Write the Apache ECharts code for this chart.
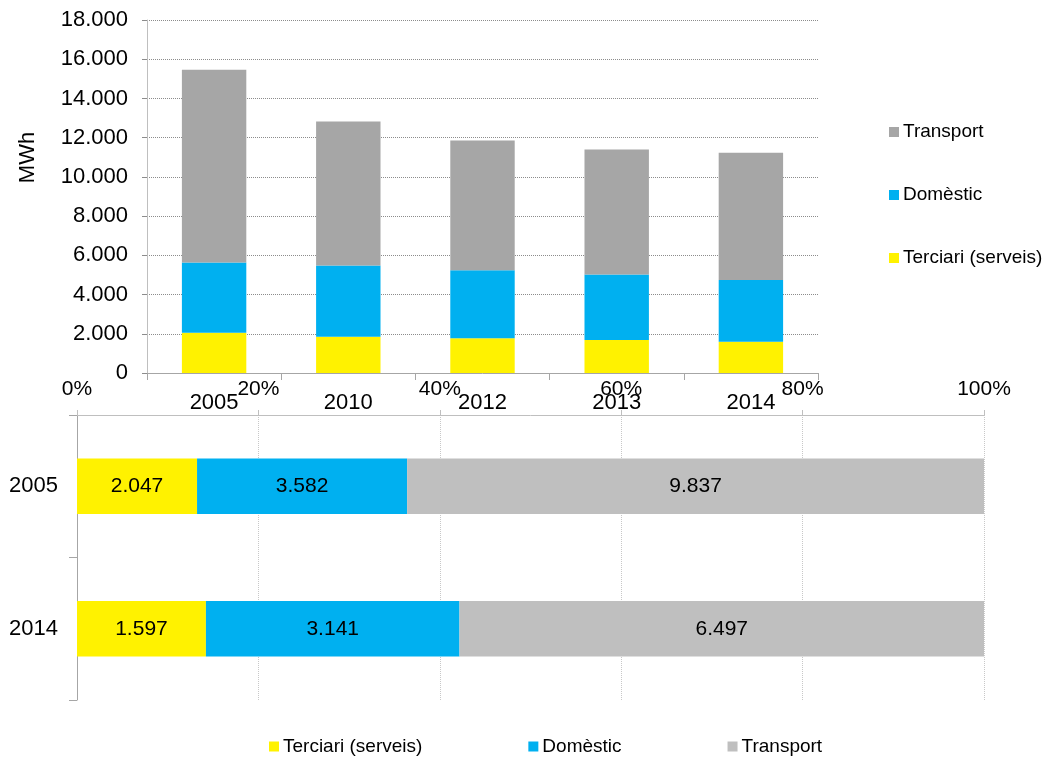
<!DOCTYPE html>
<html>
<head>
<meta charset="utf-8">
<script src="https://cdn.jsdelivr.net/npm/echarts@6/dist/echarts.min.js"></script>
<style>
  html, body { margin: 0; padding: 0; background: #fff; }
  #chart { width: 1045px; height: 758px; }
</style>
</head>
<body>
<div id="chart"></div>
<script>
// top chart: MWh per sector and year
const years = ['2005', '2010', '2012', '2013', '2014'];
const terciari = [2047, 1854, 1769, 1684, 1597];
const domestic = [3582, 3622, 3469, 3333, 3141];
const transport = [9837, 7347, 6616, 6378, 6497];

// bottom chart: share per sector, 2005 vs 2014
const shareYears = ['2005', '2014'];
const shareTerciari = [2047, 1597];
const shareDomestic = [3582, 3141];
const shareTransport = [9837, 6497];

const yTicks = { min: 0, max: 18000, interval: 2000 };
const pctTicks = { min: 0, max: 100, interval: 20 };

const FONT = '"Liberation Sans", Arial, sans-serif';
const YELLOW = '#FFF200';
const BLUE = '#00B0F0';
const GREY_TOP = '#A6A6A6';
const GREY_BOTTOM = '#BFBFBF';

function dots(v) {
  return String(v).replace(/\B(?=(\d{3})+(?!\d))/g, '.');
}

const totals = shareYears.map((y, i) => shareTerciari[i] + shareDomestic[i] + shareTransport[i]);
function pct(arr) {
  return arr.map((v, i) => ({ value: v / totals[i] * 100, raw: v }));
}

const chart = echarts.init(document.getElementById('chart'));

const shareLabel = {
  show: true,
  position: 'inside',
  color: '#000',
  fontFamily: FONT,
  fontSize: 21,
  formatter: p => dots(p.data.raw)
};

chart.setOption({
  animation: false,
  textStyle: { fontFamily: FONT },
  grid: [
    { left: 147, right: 227, top: 20, bottom: 385 },
    { left: 77, right: 61, top: 415, bottom: 58 }
  ],
  legend: [
    {
      orient: 'vertical',
      left: 884,
      top: 117,
      itemWidth: 10,
      itemHeight: 10,
      itemGap: 43,
      icon: 'rect',
      textStyle: { fontFamily: FONT, fontSize: 19, color: '#000', lineHeight: 20, padding: [0, 0, 0, -1] },
      data: [
        { name: 'Transport', itemStyle: { color: GREY_TOP } },
        { name: 'Domèstic', itemStyle: { color: BLUE } },
        { name: 'Terciari (serveis)', itemStyle: { color: YELLOW } }
      ]
    },
    {
      orient: 'horizontal',
      left: 264,
      top: 732,
      itemWidth: 10,
      itemHeight: 10,
      itemGap: 106,
      icon: 'rect',
      textStyle: { fontFamily: FONT, fontSize: 19, color: '#000', padding: [0, 0, 0, -1] },
      data: [
        { name: 'Terciari (serveis)', itemStyle: { color: YELLOW } },
        { name: 'Domèstic', itemStyle: { color: BLUE } },
        { name: 'Transport', itemStyle: { color: GREY_BOTTOM } }
      ]
    }
  ],
  xAxis: [
    {
      gridIndex: 0,
      type: 'category',
      data: years,
      axisLine: { lineStyle: { color: '#a6a6a6' } },
      axisTick: { show: true, length: 7, lineStyle: { color: '#a6a6a6' } },
      axisLabel: { color: '#000', fontSize: 22, margin: 19 },
      splitLine: { show: false }
    },
    {
      gridIndex: 1,
      type: 'value',
      position: 'top',
      min: pctTicks.min,
      max: pctTicks.max,
      interval: pctTicks.interval,
      axisLine: { show: true, lineStyle: { color: '#bfbfbf' } },
      axisTick: { show: true, length: 5, lineStyle: { color: '#bfbfbf' } },
      axisLabel: { color: '#000', fontSize: 21, margin: 15, formatter: v => v + '%' },
      splitLine: { show: true, lineStyle: { color: '#c8c8c8', type: 'dotted' } }
    }
  ],
  yAxis: [
    {
      gridIndex: 0,
      type: 'value',
      min: yTicks.min,
      max: yTicks.max,
      interval: yTicks.interval,
      name: 'MWh',
      nameLocation: 'middle',
      nameGap: 108,
      nameRotate: 90,
      nameTextStyle: { color: '#000', fontSize: 22, fontFamily: FONT, padding: [0, 0, 0, 78] },
      axisLine: { show: true, lineStyle: { color: '#bfbfbf' } },
      axisTick: { show: true, length: 5, lineStyle: { color: '#8c8c8c' } },
      axisLabel: { color: '#000', fontSize: 22, margin: 19, formatter: v => dots(v) },
      splitLine: { show: true, lineStyle: { color: '#8c8c8c', type: 'dotted' } }
    },
    {
      gridIndex: 1,
      type: 'category',
      inverse: true,
      data: shareYears,
      axisLine: { show: true, lineStyle: { color: '#a6a6a6' } },
      axisTick: { show: true, length: 8, lineStyle: { color: '#a6a6a6' } },
      axisLabel: { color: '#000', fontSize: 22, margin: 19 },
      splitLine: { show: false }
    }
  ],
  series: [
    { name: 'Terciari (serveis)', type: 'bar', stack: 'top', xAxisIndex: 0, yAxisIndex: 0,
      barWidth: '48%', itemStyle: { color: YELLOW }, data: terciari },
    { name: 'Domèstic', type: 'bar', stack: 'top', xAxisIndex: 0, yAxisIndex: 0,
      barWidth: '48%', itemStyle: { color: BLUE }, data: domestic },
    { name: 'Transport', type: 'bar', stack: 'top', xAxisIndex: 0, yAxisIndex: 0,
      barWidth: '48%', itemStyle: { color: GREY_TOP }, data: transport },

    { name: 'Terciari (serveis)', type: 'bar', stack: 'share', xAxisIndex: 1, yAxisIndex: 1,
      barWidth: '39%', itemStyle: { color: YELLOW }, label: shareLabel, data: pct(shareTerciari) },
    { name: 'Domèstic', type: 'bar', stack: 'share', xAxisIndex: 1, yAxisIndex: 1,
      barWidth: '39%', itemStyle: { color: BLUE }, label: shareLabel, data: pct(shareDomestic) },
    { name: 'Transport', type: 'bar', stack: 'share', xAxisIndex: 1, yAxisIndex: 1,
      barWidth: '39%', itemStyle: { color: GREY_BOTTOM }, label: shareLabel, data: pct(shareTransport) }
  ]
});
</script>
</body>
</html>
